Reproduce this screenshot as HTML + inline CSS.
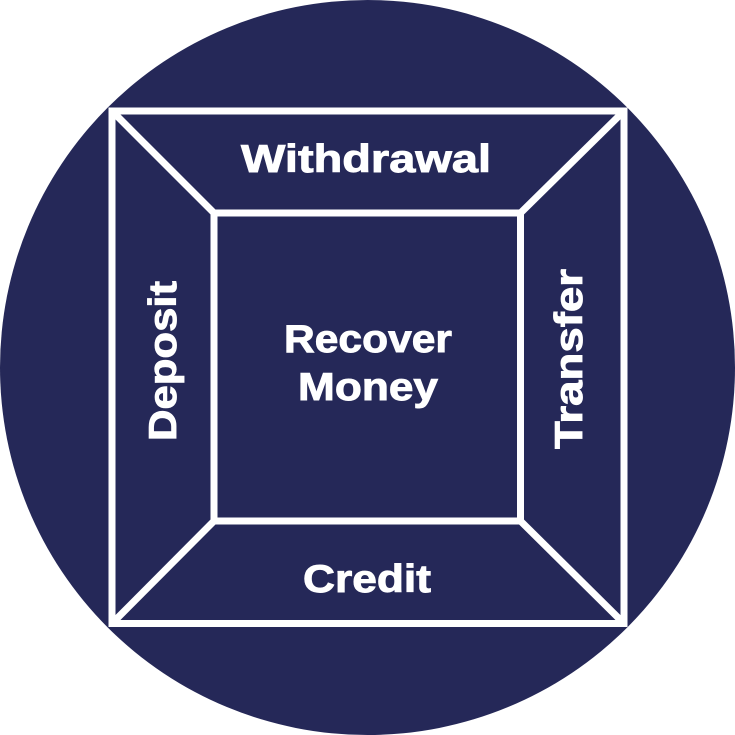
<!DOCTYPE html>
<html><head><style>html,body{margin:0;padding:0;background:#fff}svg{display:block}</style></head>
<body>
<svg width="735" height="735" viewBox="0 0 735 735" xmlns="http://www.w3.org/2000/svg">
<circle cx="367.5" cy="367.5" r="367.5" fill="#252858"/>
<g stroke="#fff" stroke-width="7" fill="none">
<rect x="112" y="111" width="512" height="512.5"/>
<rect x="214" y="213" width="306.5" height="308"/>
<line x1="112" y1="111" x2="214" y2="213"/>
<line x1="624" y1="111" x2="520.5" y2="213"/>
<line x1="112" y1="623.5" x2="214" y2="521"/>
<line x1="624" y1="623.5" x2="520.5" y2="521"/>
</g>
<g fill="#fff" stroke="#fff" stroke-width="0.9" font-family="Liberation Sans, sans-serif" font-weight="bold" font-size="39" text-anchor="middle">
<text x="366" y="172" textLength="250" lengthAdjust="spacingAndGlyphs">Withdrawal</text>
<text x="367" y="592" textLength="128" lengthAdjust="spacingAndGlyphs">Credit</text>
<text x="368" y="352" textLength="168" lengthAdjust="spacingAndGlyphs">Recover</text>
<text x="368" y="400" textLength="140" lengthAdjust="spacingAndGlyphs">Money</text>
<text transform="translate(176,361) rotate(-90)" x="0" y="0" textLength="160" lengthAdjust="spacingAndGlyphs">Deposit</text>
<text transform="translate(582,359) rotate(-90)" x="0" y="0" textLength="180" lengthAdjust="spacingAndGlyphs">Transfer</text>
</g>
</svg>
</body></html>
